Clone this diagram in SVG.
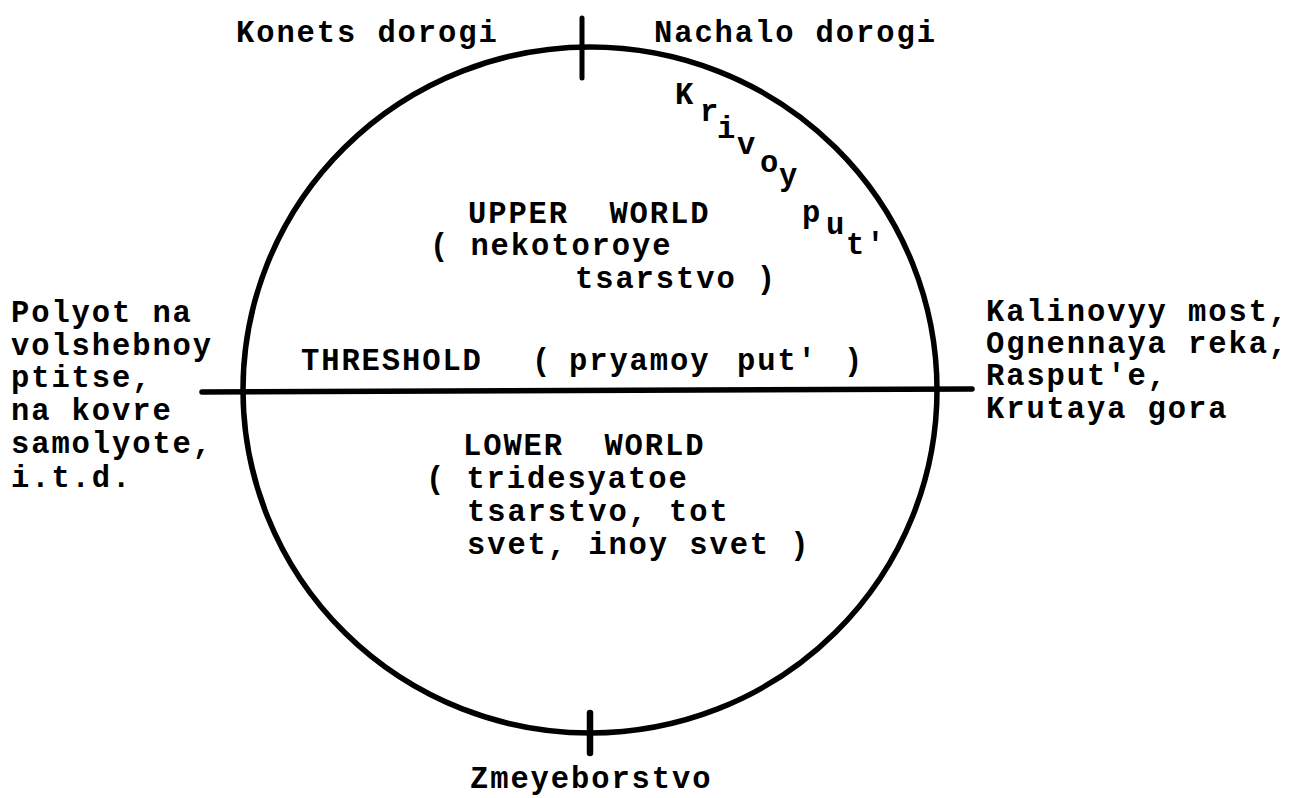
<svg xmlns="http://www.w3.org/2000/svg" width="1313" height="798" viewBox="0 0 1313 798">
<style>
  text { font-family: "Liberation Mono", "DejaVu Sans Mono", monospace; font-weight: bold; font-size: 30.5px; letter-spacing: 1.9px; fill: #000; white-space: pre; }
  .ln { stroke: #000; fill: none; stroke-linecap: round; }
</style>
<rect x="0" y="0" width="1313" height="798" fill="#fff"/>
<g id="connectors">
  <ellipse class="ln" cx="590" cy="390" rx="347" ry="343" stroke-width="5.5"/>
  <line class="ln" x1="202" y1="392" x2="972" y2="389" stroke-width="5.5"/>
  <line class="ln" x1="582" y1="18" x2="582" y2="78" stroke-width="5"/>
  <line class="ln" x1="590" y1="713" x2="590" y2="753" stroke-width="6.5"/>
</g>
<g id="top-labels">
  <text x="236" y="42">Konets dorogi</text>
  <text x="654" y="42">Nachalo dorogi</text>
</g>
<g id="krivoy-put">
  <text x="685" y="104" text-anchor="middle">K</text>
  <text x="710" y="121" text-anchor="middle">r</text>
  <text x="727" y="138" text-anchor="middle">i</text>
  <text x="747" y="154" text-anchor="middle">v</text>
  <text x="770" y="172" text-anchor="middle">o</text>
  <text x="789" y="185" text-anchor="middle">y</text>
  <text x="812" y="222" text-anchor="middle">p</text>
  <text x="836" y="234" text-anchor="middle">u</text>
  <text x="846" y="254">t'</text>
</g>
<g id="upper-world">
  <text x="468" y="223">UPPER  WORLD</text>
  <text x="430" y="255">( nekotoroye</text>
  <text x="575" y="288">tsarstvo )</text>
</g>
<g id="threshold">
  <text x="301" y="370">THRESHOLD</text>
  <text x="532" y="370">(</text>
  <text x="569" y="370">pryamoy</text>
  <text x="737" y="370">put'</text>
  <text x="844" y="370">)</text>
</g>
<g id="lower-world">
  <text x="463" y="455">LOWER  WORLD</text>
  <text x="426" y="488">( tridesyatoe</text>
  <text x="467" y="521">tsarstvo, tot</text>
  <text x="467" y="554">svet, inoy svet )</text>
</g>
<g id="left-label">
  <text x="11" y="322">Polyot na</text>
  <text x="11" y="355">volshebnoy</text>
  <text x="11" y="387">ptitse,</text>
  <text x="11" y="420">na kovre</text>
  <text x="11" y="453">samolyote,</text>
  <text x="11" y="487">i.t.d.</text>
</g>
<g id="right-label">
  <text x="986" y="321">Kalinovyy most,</text>
  <text x="986" y="353">Ognennaya reka,</text>
  <text x="986" y="385">Rasput'e,</text>
  <text x="986" y="418">Krutaya gora</text>
</g>
<g id="bottom-label">
  <text x="470" y="788">Zmeyeborstvo</text>
</g>
</svg>
